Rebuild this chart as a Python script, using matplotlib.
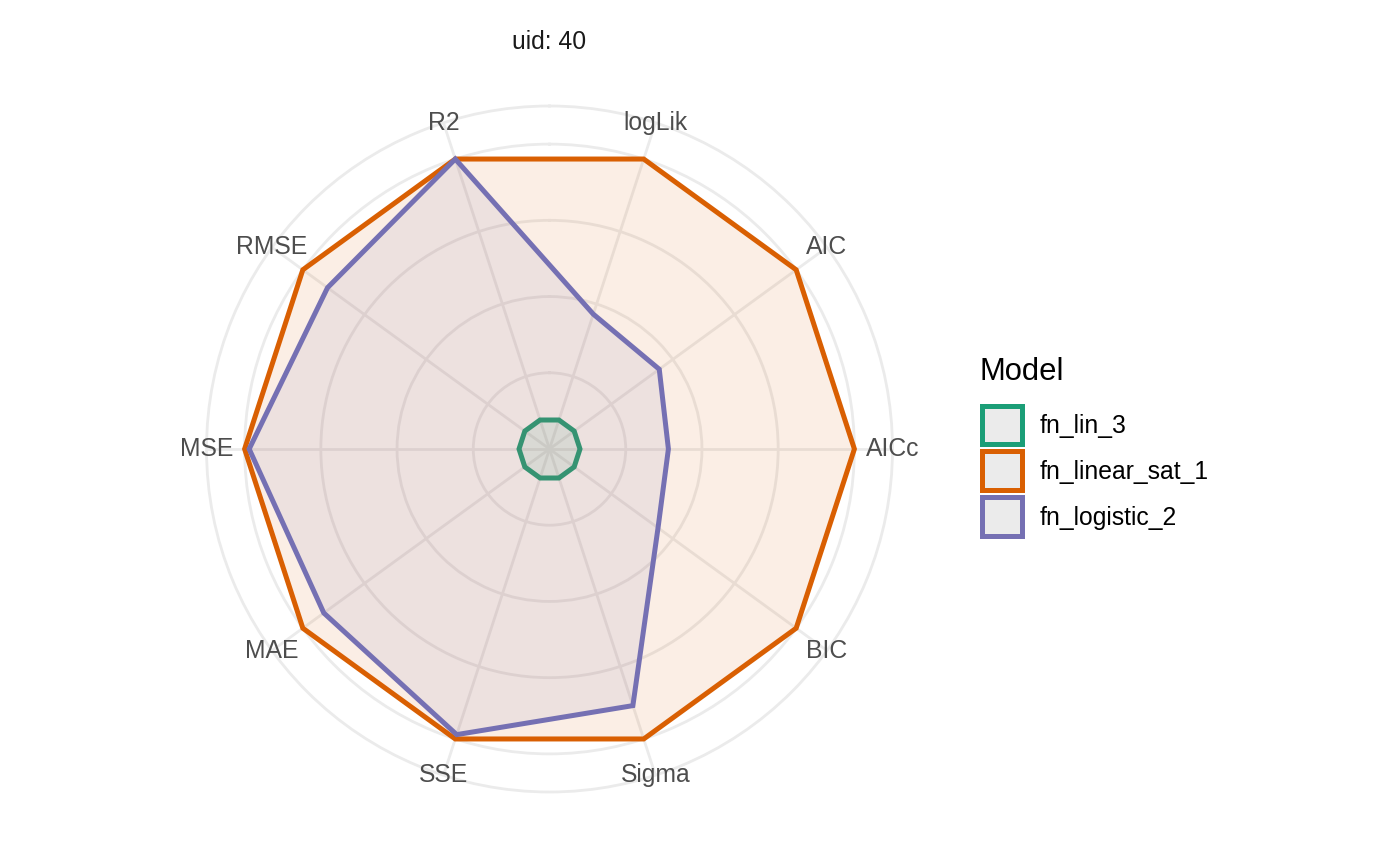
import numpy as np
import matplotlib.pyplot as plt
import matplotlib.colors as mcolors
from matplotlib.patches import Patch

plt.rcParams["font.family"] = ["Liberation Sans", "DejaVu Sans"]

# Metrics around the radar (clockwise from just left of the top)
metrics = ["R2", "logLik", "AIC", "AICc", "BIC",
           "Sigma", "SSE", "MAE", "MSE", "RMSE"]

# Scaled scores per model (0..1 on the radial axis)
models = ["fn_lin_3", "fn_linear_sat_1", "fn_logistic_2"]
fn_lin_3 = [0.10, 0.10, 0.10, 0.10, 0.10, 0.10, 0.10, 0.10, 0.10, 0.10]
fn_linear_sat_1 = [1.0, 1.0, 1.0, 1.0, 1.0, 1.0, 1.0, 1.0, 1.0, 1.0]
fn_logistic_2 = [1.0, 0.465, 0.445, 0.39, 0.44,
                 0.885, 0.985, 0.915, 0.985, 0.90]
colors = ["#1B9E77", "#D95F02", "#7570B3"]

title = "uid: 40"
legend_title = "Model"
grid_col = "#EBEBEB"

W, H = 1400, 866
fig = plt.figure(figsize=(W / 100, H / 100), dpi=100)

# panel: centre (549.5, 449) px, outer radius 343 px
cx, cy, rad = 549.5, 449, 343
ax = fig.add_axes([(cx - rad) / W, (H - cy - rad) / H, 2 * rad / W, 2 * rad / H],
                  projection="polar")
ax.set_theta_zero_location("N")
ax.set_theta_direction(-1)

theta = np.mod(np.deg2rad(np.arange(len(metrics)) * 36 - 18), 2 * np.pi)
rmax = 1.125
ax.set_xticks(theta)
ax.set_xticklabels([])
ax.set_xlim(0, 2 * np.pi)
ax.set_yticks([0.25, 0.5, 0.75, 1.0])
ax.set_yticklabels([])
ax.set_ylim(0, rmax)
ax.tick_params(length=0)
ax.grid(True, color=grid_col, lw=2.0)
ax.spines["polar"].set_color(grid_col)
ax.spines["polar"].set_linewidth(2.0)
ax.set_axisbelow(True)

series = [fn_lin_3, fn_linear_sat_1, fn_logistic_2]
for vals, col in zip(series, colors):
    t = np.append(theta, theta[0])
    r = np.append(vals, vals[0])
    ax.fill(t, r, facecolor=mcolors.to_rgba(col, 0.1), edgecolor=col,
            lw=3.6, joinstyle="miter")

for t, name in zip(theta, metrics):
    ax.text(t, rmax, name, ha="center", va="center", fontsize=17.8,
            color="#4D4D4D")

fig.text(cx / W, 1 - 42 / H, title, ha="center", va="center",
         fontsize=17.8, color="#1A1A1A")

# legend: title as plain text, keys packed below it
fig.text(979 / W, 1 - 372 / H, legend_title, ha="left", va="center",
         fontsize=22.3, color="black")
handles = [Patch(facecolor="#EBEBEB", edgecolor=c, lw=3.6) for c in colors]
leg = fig.legend(handles, models, loc="upper left",
                 bbox_to_anchor=(982.5 / W, 1 - 405.5 / H), frameon=False,
                 fontsize=17.8, borderpad=0, borderaxespad=0,
                 handlelength=1.58, handleheight=2.05, labelspacing=0.28,
                 handletextpad=0.75)

fig.savefig("out.png", dpi=100)
